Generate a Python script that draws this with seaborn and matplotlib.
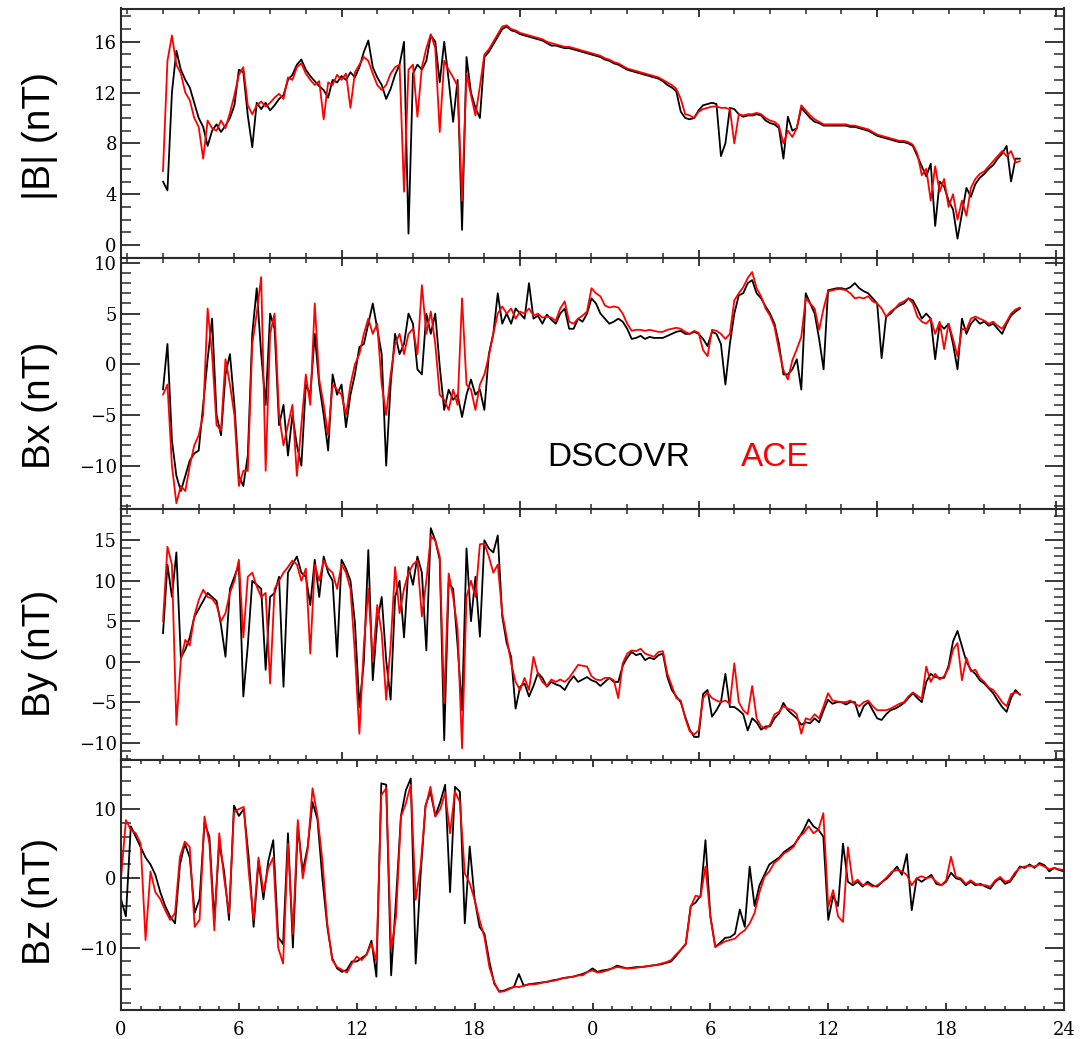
import numpy as np
import pandas as pd
import matplotlib
matplotlib.use("Agg")
import matplotlib.pyplot as plt
import seaborn as sns
from matplotlib.ticker import FixedLocator, MultipleLocator, FuncFormatter

# ---------------- data (hours, 0.25 h grid) ----------------
hours = np.arange(193) * 0.25

babs_dscovr = [
    5.0, 4.3, 12.0, 15.3, 13.8, 13.0, 12.4, 11.2,
    10.0, 9.3, 7.8, 9.0, 9.5, 8.9, 9.4, 10.0,
    11.0, 13.8, 13.6, 10.2, 7.7, 11.2, 10.7, 11.2,
    10.6, 11.0, 11.5, 11.8, 13.0, 13.4, 14.2, 14.6,
    13.8, 13.3, 12.9, 12.5, 12.2, 11.6, 13.0, 12.8,
    13.3, 13.0, 13.6, 13.2, 14.0, 15.2, 16.1, 14.0,
    13.2, 12.6, 11.5, 12.3, 13.4, 14.2, 16.0, 0.9,
    13.5, 14.2, 13.8, 14.5, 16.5, 16.0, 12.8, 16.0,
    13.0, 9.7, 13.0, 1.2, 14.8, 12.0, 10.8, 10.0,
    14.8, 15.2, 15.8, 16.4, 17.0, 17.2, 16.9, 16.8,
    16.6, 16.5, 16.4, 16.3, 16.2, 16.1, 15.9, 15.7,
    15.7, 15.6, 15.5, 15.5, 15.4, 15.3, 15.2, 15.1,
    15.0, 14.9, 14.8, 14.6, 14.5, 14.3, 14.2, 14.0,
    13.8, 13.7, 13.6, 13.5, 13.4, 13.3, 13.2, 13.1,
    12.9, 12.6, 12.4, 12.1, 10.5, 10.0, 9.9, 10.0,
    10.6, 11.0, 11.1, 11.2, 11.1, 7.0, 8.0, 10.8,
    10.7, 10.3, 10.1, 10.2, 10.2, 10.3, 10.2, 9.8,
    9.6, 9.5, 9.2, 6.8, 10.1, 9.0, 9.2, 10.8,
    10.4, 10.0, 9.7, 9.6, 9.4, 9.4, 9.4, 9.4,
    9.4, 9.4, 9.3, 9.3, 9.2, 9.1, 9.0, 8.8,
    8.6, 8.5, 8.4, 8.3, 8.2, 8.1, 8.1, 8.0,
    7.8, 7.0, 6.2, 5.4, 6.4, 1.5, 5.0, 4.6,
    3.5, 2.8, 0.5, 2.5, 4.5, 3.8, 4.8, 5.3,
    5.6, 6.0, 6.3, 6.8, 7.2, 7.8, 5.0, 6.8,
    6.8,
]
babs_ace = [
    5.8, 14.5, 16.5, 14.2, 13.5, 12.0, 11.4, 10.0,
    9.3, 6.8, 9.8, 9.2, 9.0, 9.8, 9.2, 10.4,
    11.8, 13.4, 14.0, 11.0, 10.3, 11.0, 11.3, 10.9,
    11.2, 11.6, 11.9, 11.5, 13.2, 13.0, 14.0, 14.3,
    13.5, 13.0, 12.6, 12.9, 9.9, 12.8, 12.6, 13.4,
    13.0, 13.5, 10.8, 13.6, 14.2, 14.8, 14.5, 13.5,
    12.6, 12.2, 12.6, 13.5, 14.0, 14.2, 4.2, 13.8,
    14.2, 10.1, 14.0, 15.5, 16.6, 15.5, 8.9, 14.5,
    13.8, 13.2, 12.5, 3.5, 13.5, 11.8, 10.2, 12.5,
    15.0, 15.4, 16.0, 16.6, 17.2, 17.3, 17.0, 16.9,
    16.7, 16.6, 16.5, 16.4, 16.3, 16.2, 16.0, 15.9,
    15.8, 15.7, 15.6, 15.6, 15.5, 15.4, 15.3, 15.2,
    15.1, 15.0, 14.9, 14.7, 14.6, 14.4, 14.3, 14.1,
    13.9, 13.8, 13.7, 13.6, 13.5, 13.4, 13.3, 13.2,
    13.0, 12.8, 12.6, 12.3, 11.5, 10.3, 10.2, 10.0,
    10.5, 10.7, 10.8, 10.9, 10.9, 10.8, 10.8, 10.7,
    8.0, 10.3, 10.2, 10.3, 10.3, 10.4, 10.3, 10.0,
    9.8, 9.7, 9.4, 8.0, 9.0, 8.5, 9.2, 11.0,
    10.6, 10.2, 9.9, 9.7, 9.5, 9.5, 9.5, 9.5,
    9.5, 9.5, 9.4, 9.4, 9.3, 9.2, 9.1, 8.9,
    8.7, 8.6, 8.5, 8.4, 8.3, 8.2, 8.2, 8.1,
    7.9, 7.2, 5.5, 6.0, 3.5, 6.2, 4.2, 5.2,
    3.0, 4.0, 2.0, 3.5, 2.3, 4.5, 5.2, 5.6,
    5.8, 6.2, 6.6, 7.0, 7.4, 7.0, 7.4, 6.5,
    6.6,
]

bx_dscovr = [
    -2.5, 2.0, -7.5, -11.0, -12.5, -11.0, -9.5, -8.8,
    -8.5, -4.0, 0.5, 4.5, -5.0, -7.0, -1.0, 1.0,
    -4.0, -11.0, -12.0, -9.0, 3.0, 7.5, 1.0, -4.0,
    5.0, 3.5, -6.0, -4.0, -9.0, -5.0, -8.0, -10.0,
    -2.0, -3.0, 3.0, -2.0, -5.0, -8.5, -1.0, -3.0,
    -2.0, -6.2, -3.0, -1.0, 1.7, 2.0, 4.0, 6.0,
    3.5, 1.0, -10.0, -2.0, 3.0, 1.0, 2.0, 5.0,
    4.0, -0.5, -1.0, 5.0, 3.0, 5.0, -0.2, -4.5,
    -2.5, -3.5, -3.0, -5.2, -3.0, -1.5, -3.0, -2.5,
    -4.5, 1.0, 3.0, 7.0, 4.0, 5.0, 4.0, 5.5,
    5.0, 4.5, 8.0, 4.5, 4.8, 4.0, 4.9, 4.4,
    4.0, 5.0, 5.5, 3.5, 3.5, 4.5, 4.2, 5.0,
    6.5, 6.0, 5.0, 4.5, 4.0, 4.2, 4.5, 4.2,
    3.5, 2.5, 2.6, 2.8, 2.5, 2.7, 2.6, 2.6,
    2.6, 2.8, 3.0, 3.2, 3.3, 3.0, 3.0, 3.2,
    3.0, 2.5, 1.8, 3.2, 3.0, 2.0, -2.0, 2.0,
    5.0, 6.8, 7.0, 8.0, 8.3, 7.0, 6.5, 5.7,
    5.0, 4.0, 2.0, -1.0, -1.0, -0.5, 0.5, -2.5,
    7.0, 6.0, 5.0, 2.5, -0.5, 7.3, 7.4, 7.5,
    7.5, 7.4, 7.6, 8.0, 7.5, 7.2, 7.0, 6.5,
    6.0, 0.6, 4.7, 5.0, 5.5, 5.8, 6.0, 6.5,
    6.3, 5.5, 4.5, 5.0, 4.5, 0.5, 4.0, 3.5,
    4.0, 2.0, -0.5, 4.5, 3.0, 4.0, 4.5, 4.0,
    4.2, 3.8, 4.0, 3.5, 3.0, 4.0, 4.8, 5.2,
    5.5,
]
bx_ace = [
    -3.0, -2.0, -10.0, -13.7, -12.0, -12.5, -10.0, -8.0,
    -7.0, -5.0, 5.5, 1.0, -6.0, -6.5, 0.5, -2.0,
    -5.0, -12.0, -10.5, -10.5, 2.0, 5.0, 8.6, -10.5,
    3.0, 5.0, -5.0, -8.0, -6.0, -4.0, -11.0, -6.0,
    -1.0, -4.0, 6.0, -1.5, -4.0, -7.0, -2.0, -2.5,
    -3.0, -5.0, -2.0, 0.0, 1.0, 3.0, 4.5, 3.0,
    4.0, -2.0, -5.0, -1.0, 2.0, 3.0, 1.0, 3.0,
    3.5, 1.0, 7.8, 3.0, 5.2, 2.0, -3.0, -3.5,
    -4.5, -2.5, -4.0, 6.5, -2.0, -2.5, -4.5, -2.0,
    -1.0, 0.8, 3.0, 5.0, 5.7, 5.0, 5.5, 4.5,
    5.2, 5.0, 5.5, 4.8, 5.0, 4.6, 4.7, 4.6,
    4.3, 5.5, 6.2, 4.2, 4.0, 4.5, 4.8, 5.2,
    7.5, 7.0, 6.7, 5.8, 5.6, 5.7, 5.6, 5.0,
    4.0, 3.3, 3.4, 3.4, 3.3, 3.4, 3.3, 3.2,
    3.2, 3.4, 3.5, 3.6, 3.5, 3.2, 3.0, 3.3,
    3.1, 1.4, 0.8, 3.4, 3.3, 3.0, 2.5, 3.0,
    6.3, 7.0, 7.6, 8.5, 9.1, 7.5, 6.7, 5.5,
    4.8, 3.7, 1.4, -0.6, -1.5, 0.4, 1.5, 2.7,
    6.5, 6.0, 5.5, 3.4, 5.5, 7.2, 7.3, 7.4,
    7.4, 7.3, 7.0, 6.5, 6.6, 6.5, 6.7, 6.2,
    6.0, 5.5, 4.7, 5.2, 5.5, 6.0, 6.2, 6.5,
    6.0, 4.7, 4.2, 4.0, 4.5, 3.0, 4.2, 1.5,
    4.0, 2.5, 0.8, 3.5, 3.4, 4.5, 4.7, 4.5,
    4.3, 4.0, 4.2, 3.8, 3.5, 4.2, 5.0, 5.4,
    5.6,
]

by_dscovr = [
    3.5, 12.0, 8.0, 13.5, 0.5, 1.5, 3.0, 5.5,
    6.5, 7.5, 8.5, 8.0, 7.5, 4.5, 0.6, 9.0,
    10.5, 12.0, -4.3, 2.0, 10.0, 9.5, 9.0, -1.0,
    8.0, 8.5, 10.5, -3.1, 11.0, 12.0, 13.0, 11.0,
    10.5, 7.0, 12.6, 8.0, 13.0, 11.0, 10.0, 0.6,
    12.6, 11.5, 10.0, 4.8, -5.6, 0.0, 13.8, -2.3,
    5.0, 8.0, 0.2, -4.7, 8.0, 10.0, 3.0, 11.7,
    9.5, 13.0, 11.0, 1.4, 16.5, 15.0, 12.6, -9.7,
    9.7, 9.0, 2.0, -6.0, 14.0, 5.0, 10.5, 3.1,
    15.0, 14.0, 13.5, 15.6, 5.6, 2.3, 0.6, -5.8,
    -3.1, -2.7, -4.3, -3.0, -1.4, -2.0, -3.1, -2.5,
    -2.8, -3.0, -3.5, -2.5, -1.8, -2.5, -2.2, -1.9,
    -2.3, -2.5, -3.0, -2.5, -2.0, -2.5, -2.5, -0.5,
    0.5, 1.2, 0.8, 1.0, 0.2, 0.5, 0.3, 0.8,
    1.0, -1.9, -3.5, -4.3, -5.0, -6.8, -8.4, -9.3,
    -9.3, -4.0, -3.5, -6.8, -6.0, -5.0, -1.5, -5.6,
    -5.6, -6.0, -6.5, -8.5, -7.0, -7.5, -8.4, -8.0,
    -8.0, -7.0, -6.4, -5.1, -6.0, -6.5, -7.0, -7.8,
    -7.5, -7.6, -7.0, -7.5, -6.0, -4.7, -5.2, -5.0,
    -5.0, -5.3, -5.0, -5.0, -6.8, -5.5, -5.0, -6.0,
    -7.0, -7.2, -6.5, -6.0, -5.8, -5.5, -5.1, -4.5,
    -3.9, -4.5, -5.0, -2.5, -1.5, -1.9, -2.0, -2.0,
    -0.5, 2.5, 3.8, 1.9, 0.0, -1.0, -1.5, -2.3,
    -2.7, -3.3, -3.9, -4.8, -5.6, -6.2, -4.5, -3.5,
    -4.1,
]
by_ace = [
    5.0, 14.2, 12.0, -7.8, 0.2, 2.7, 2.0, 5.6,
    7.6, 8.9, 8.0, 7.8, 7.0, 5.0, 6.0, 8.5,
    10.0, 12.6, 3.0, 10.5, 11.0, 9.3, 8.0, 8.5,
    -2.7, 9.0, 10.0, 11.0, 11.7, 12.5, 12.0, 10.0,
    11.5, 1.0, 12.0, 10.0, 12.5, 11.5, 11.0, 9.0,
    12.0, 11.0, 9.0, 1.0, -8.9, 2.0, 9.0, 0.0,
    7.0, 3.5, -4.7, 2.0, 11.7, 6.0, 9.0, 11.0,
    12.0, 12.5, 5.6, 10.0, 15.5, 15.0, 13.0, -5.1,
    10.9, 8.0, 4.0, -10.7, 8.0, 10.0, 8.0, 14.5,
    14.6, 13.0, 11.0, 12.0, 6.0, 3.0, -0.2, -2.5,
    -3.5, -2.0, -3.5, 0.6, -1.5, -2.5, -3.0, -2.2,
    -2.5, -2.2, -2.5, -2.0, -1.2, -0.4, -0.5, -0.6,
    -1.8, -2.2, -2.3, -2.0, -2.0, -2.3, -4.5, -0.2,
    1.0, 1.4, 1.3, 1.6, 1.0, 0.8, 0.6, 1.2,
    1.3, -1.5, -3.0, -4.5, -4.8, -7.0, -8.6, -9.0,
    -8.5, -4.5, -3.8, -4.5, -4.8, -5.0, -4.8, -5.2,
    -0.2, -5.0, -6.0, -6.5, -3.0, -7.0, -8.0, -8.3,
    -7.8, -6.5, -6.2, -5.5, -5.8, -6.0, -6.5, -8.9,
    -7.0, -7.2, -6.5, -7.0, -5.5, -3.9, -4.8, -4.9,
    -5.0, -5.0, -4.8, -5.2, -5.5, -5.0, -4.8, -5.5,
    -6.0, -6.0, -6.0, -5.8, -5.5, -5.2, -5.0, -4.3,
    -3.8, -4.2, -4.6, -0.6, -2.5, -1.5, -2.2, -1.8,
    -0.8, 1.5, 2.3, -2.3, 0.5, -1.2, -1.0, -2.0,
    -2.5, -3.2, -3.5, -4.2, -5.0, -5.5, -4.0, -3.8,
    -4.0,
]

bz_dscovr = [
    -3.0, -5.5, 7.5, 6.0, 4.5, 3.0, 2.0, 0.5,
    -2.0, -4.0, -5.5, -6.5, 2.0, 5.0, 3.0, -5.0,
    -3.0, 8.0, 6.0, -6.0, 5.0, 1.0, -6.0, 10.5,
    9.0, 10.0, 3.0, -7.0, 2.5, -3.0, 2.5, 5.5,
    -8.5, -9.5, 6.5, -10.0, 7.5, 1.0, 4.5, 11.0,
    8.5, 0.0, -7.0, -11.5, -13.0, -13.5, -13.2, -12.0,
    -12.0, -11.5, -11.0, -9.0, -14.2, 13.7, 13.5, -14.0,
    -3.0, 9.0, 12.7, 14.4, -12.3, 0.5, 10.5, 12.5,
    9.0, 11.0, 13.5, -2.0, 13.2, 12.5, -6.5, 4.6,
    -3.0, -7.0, -8.0, -12.0, -15.2, -16.3, -16.2, -15.9,
    -15.7, -13.8, -15.5, -15.3, -15.2, -15.1, -15.0, -14.9,
    -14.7, -14.6, -14.4, -14.3, -14.2, -14.0, -13.8, -13.5,
    -13.0, -13.5, -13.3, -13.2, -13.0, -12.6, -12.8, -13.0,
    -12.9, -12.8, -12.8, -12.7, -12.6, -12.5, -12.4, -12.2,
    -12.0, -11.2, -10.3, -9.5, -4.0, -3.5, -2.5, 5.5,
    -5.5, -9.9, -9.3, -8.6, -8.5, -8.0, -4.5, -7.0,
    1.7, -4.0, -1.0, 0.5, 2.0, 2.5, 3.0, 3.8,
    4.3, 4.8, 5.8, 7.0, 8.5, 7.5, 7.0, 6.0,
    -6.0, -2.5, -4.0, 5.0, -0.5, -1.0, -0.5, -1.2,
    -0.5, -1.0, -1.2, -0.5, 0.0, 0.8, 1.7, 0.5,
    3.5, -4.6, 0.0, -0.5, 0.0, 0.5, -0.8, -1.0,
    -0.5, 0.8, 0.0, -0.2, -1.0, -0.5, -1.0, -0.8,
    -1.2, -1.5, -0.5, 0.0, -0.8, -0.5, 0.5, 1.7,
    1.5, 2.0, 1.5, 2.2, 1.9, 1.0, 1.5, 1.2,
    1.0,
]
bz_ace = [
    0.0, 8.4, 7.0, 6.5, 5.0, -8.9, 1.0, -2.0,
    -3.0, -4.6, -6.0, -5.0, 3.1, 5.3, 4.5, -7.0,
    -6.0, 8.9, 5.0, -7.5, 6.5, 0.0, -5.0, 9.5,
    10.0, 10.3, 1.0, -6.0, 3.0, -2.0, 1.5, 3.0,
    -10.0, -12.3, 5.0, -8.0, 8.4, 0.0, 4.1, 13.0,
    9.0, 2.6, -6.5, -11.8, -12.8, -13.2, -13.6, -12.3,
    -11.3, -11.8, -11.0, -9.4, -12.0, 12.0, 13.0, -10.3,
    -5.5, 8.9, 10.8, 13.5, -3.1, 1.7, 10.3, 13.2,
    8.9, 10.0, 12.3, 6.5, 12.5, 11.0, 0.7, -0.7,
    -3.1, -6.0, -8.5, -12.8, -15.0, -16.4, -16.3, -16.0,
    -15.6, -15.7, -15.5, -15.3, -15.3, -15.2, -15.0, -14.9,
    -14.8, -14.6, -14.4, -14.3, -14.2, -14.0, -14.0, -13.5,
    -13.3, -13.6, -13.5, -13.3, -13.0, -12.8, -12.9, -13.0,
    -13.0, -12.9, -12.8, -12.7, -12.6, -12.5, -12.3, -12.1,
    -11.8, -11.0, -10.3, -9.4, -4.1, -2.5, -2.7, 1.7,
    -5.5, -9.9, -9.5, -9.1, -8.9, -8.7, -8.0, -7.5,
    -6.5, -5.0, -2.0, 0.2, 1.0, 2.2, 2.8, 3.6,
    4.0, 4.6, 6.0, 6.5, 7.5, 6.5, 7.0, 9.4,
    -4.1, -1.7, -5.5, -6.3, 4.5, -0.7, -0.2, -1.0,
    -0.8, -1.2, -1.0, -0.5, 0.2, 1.0, 1.2, 1.0,
    0.5, -1.0, 0.0, 0.3, 0.0, 0.2, -0.5, -1.0,
    -0.3, 3.1, 0.2, 0.0, -0.8, -0.3, -0.8, -1.0,
    -1.0, -1.2, -0.3, 0.2, -0.5, -0.3, 0.8, 1.5,
    1.7, 1.8, 1.7, 2.0, 1.7, 1.3, 1.5, 1.3,
    1.2,
]

panel_labels = ["|B| (nT)", "Bx (nT)", "By (nT)", "Bz (nT)"]
bottom_tick_labels = ["0", "6", "12", "18", "0", "6", "12", "18", "24"]
source_names = ["DSCOVR", "ACE"]
source_colors = ["black", "red"]

all_series = {
    "babs_dscovr": babs_dscovr, "babs_ace": babs_ace,
    "bx_dscovr": bx_dscovr, "bx_ace": bx_ace,
    "by_dscovr": by_dscovr, "by_ace": by_ace,
    "bz_dscovr": bz_dscovr, "bz_ace": bz_ace,
}
bad = {k: len(v) for k, v in all_series.items() if len(v) != len(hours)}
if bad:
    raise ValueError(f"length mismatch: {bad}")

# ---------------- style ----------------
sns.set_theme(style="ticks")
plt.rcParams["font.family"] = ["DejaVu Serif"]
plt.rcParams["axes.linewidth"] = 1.5
plt.rcParams["axes.edgecolor"] = "#2a2a2a"
plt.rcParams["xtick.color"] = "#2a2a2a"
plt.rcParams["ytick.color"] = "#2a2a2a"
plt.rcParams["xtick.labelcolor"] = "black"
plt.rcParams["ytick.labelcolor"] = "black"

W, H = 1089, 1039
fig = plt.figure(figsize=(W / 100, H / 100), dpi=100)
fig.patch.set_facecolor("white")

left_px, right_px = 121, 1064
panel_px = [(8.5, 258), (258, 509), (509, 759.5), (759.5, 1010)]
ylims = [(-1.02, 18.62), (-14.27, 10.48), (-12.09, 18.87), (-19.0, 17.14)]
ymajor = [[0, 4, 8, 12, 16], [-10, -5, 0, 5, 10], [-10, -5, 0, 5, 10, 15], [-10, 0, 10]]
yminor_step = [1, 1, 1, 2]
label_ypos = [0.489, 0.411, 0.425, 0.435]

data_pairs = [
    (babs_dscovr, babs_ace),
    (bx_dscovr, bx_ace),
    (by_dscovr, by_ace),
    (bz_dscovr, bz_ace),
]

axes = []
for i, ((top, bot), lab) in enumerate(zip(panel_px, panel_labels)):
    ax = fig.add_axes([left_px / W, (H - bot) / H, (right_px - left_px) / W, (bot - top) / H])
    ax.set_facecolor("white")
    d, a = data_pairs[i]
    df = pd.DataFrame({
        "t": np.concatenate([hours, hours]),
        "value": np.concatenate([np.asarray(d, float), np.asarray(a, float)]),
        "source": [source_names[0]] * len(hours) + [source_names[1]] * len(hours),
    })
    sns.lineplot(data=df, x="t", y="value", hue="source", hue_order=source_names,
                 palette=dict(zip(source_names, source_colors)), estimator=None,
                 sort=False, linewidth=1.3, legend=False, ax=ax)
    ax.set_xlabel("")
    ax.set_ylabel("")
    ax.set_ylim(*ylims[i])
    ax.yaxis.set_major_locator(FixedLocator(ymajor[i]))
    ax.yaxis.set_minor_locator(MultipleLocator(yminor_step[i]))
    ax.tick_params(axis="y", which="major", direction="in", length=13.5, width=1.3,
                   left=True, right=True, labelleft=True, labelsize=13, pad=3)
    ax.tick_params(axis="y", which="minor", direction="in", length=7, width=1.1,
                   left=True, right=True)
    if i < 3:
        # upper panels use their own time scale
        ax.set_xlim(-2.352, 50.465)
        ax.xaxis.set_major_locator(FixedLocator([10, 20, 30, 40, 50]))
        ax.xaxis.set_minor_locator(MultipleLocator(2))
        ax.tick_params(axis="x", which="major", direction="in", length=6, width=1.3,
                       top=True, bottom=True, labelbottom=False)
        ax.tick_params(axis="x", which="minor", direction="in", length=3.5, width=1.1,
                       top=True, bottom=True)
    else:
        ax.set_xlim(0, 48)
        ax.xaxis.set_major_locator(MultipleLocator(6))
        ax.xaxis.set_minor_locator(MultipleLocator(1))
        ax.xaxis.set_major_formatter(
            FuncFormatter(lambda v, p: bottom_tick_labels[int(round(v / 6))]
                          if 0 <= int(round(v / 6)) < len(bottom_tick_labels) else ""))
        ax.tick_params(axis="x", which="major", direction="in", length=5, width=1.3,
                       top=True, bottom=True, labelbottom=True, labelsize=13, pad=8)
        ax.tick_params(axis="x", which="minor", direction="in", length=3, width=1.1,
                       top=True, bottom=True)
    for sp in ax.spines.values():
        sp.set_visible(True)
        sp.set_linewidth(1.5)
    ax.text(-0.0859, label_ypos[i], lab, transform=ax.transAxes, rotation=90,
            ha="center", va="center", fontsize=28, family=["Liberation Sans", "DejaVu Sans"],
            color="black")
    axes.append(ax)

# legend texts in the Bx panel
axes[1].text(0.4518, 0.1717, source_names[0], transform=axes[1].transAxes,
             fontsize=24, family=["Liberation Sans", "DejaVu Sans"], color=source_colors[0],
             ha="left", va="baseline")
axes[1].text(0.6575, 0.1717, source_names[1], transform=axes[1].transAxes,
             fontsize=24, family=["Liberation Sans", "DejaVu Sans"], color=source_colors[1],
             ha="left", va="baseline")

fig.savefig("out.png", dpi=100, facecolor="white")
